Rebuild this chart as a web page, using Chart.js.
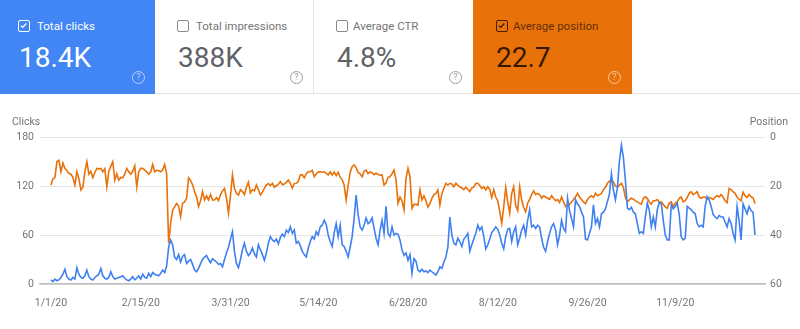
<!DOCTYPE html>
<html>
<head>
<meta charset="utf-8">
<script src="https://cdn.jsdelivr.net/npm/chart.js@4"></script>
<style>
body { margin: 0; background: #fff; font-family: Roboto, "Noto Sans", sans-serif; }
.cards { position: relative; height: 94px; width: 800px; border-bottom: 1px solid #e3e3e3; box-sizing: border-box; }
.card { position: absolute; top: 0; height: 94px; }
.chk { position: absolute; top: 20px; width: 12px; height: 12px; box-sizing: border-box; border-radius: 2px; }
.chk svg { position: absolute; left: 0; top: 0; }
.lbl { position: absolute; top: 19px; font-size: 11.5px; line-height: 14px; white-space: nowrap; }
.val { position: absolute; top: 44px; font-size: 28px; line-height: 28px; white-space: nowrap; }
.help { position: absolute; top: 71px; width: 13px; height: 13px; box-sizing: border-box; border-radius: 50%;
        border: 1.2px solid; font-size: 9px; line-height: 11px; text-align: center; }
#wrap { position: relative; width: 800px; height: 235px; }
</style>
</head>
<body>
<div class="cards">
  <div class="card" style="left:0;width:155px;background:#4285f4;color:#fff">
    <div class="chk" style="left:18px;border:1.5px solid #fff">
      <svg width="9" height="9" viewBox="0 0 9 9"><path d="M1.8 4.6 L3.7 6.4 L7.3 2.5" stroke="#fff" stroke-width="1.3" fill="none"/></svg>
    </div>
    <div class="lbl" style="left:37px">Total clicks</div>
    <div class="val" style="left:19px">18.4K</div>
    <div class="help" style="left:132px;color:rgba(255,255,255,0.6)">?</div>
  </div>
  <div class="card" style="left:155px;width:159px;border-right:1px solid #e3e3e3;box-sizing:border-box">
    <div class="chk" style="left:22px;border:1.3px solid #8a8a8a"></div>
    <div class="lbl" style="left:41px;color:#757575">Total impressions</div>
    <div class="val" style="left:23px;color:#5f6368">388K</div>
    <div class="help" style="left:135px;color:#9e9e9e">?</div>
  </div>
  <div class="card" style="left:314px;width:159px">
    <div class="chk" style="left:22px;border:1.3px solid #8a8a8a"></div>
    <div class="lbl" style="left:39px;color:#757575">Average CTR</div>
    <div class="val" style="left:23px;color:#5f6368">4.8%</div>
    <div class="help" style="left:135px;color:#9e9e9e">?</div>
  </div>
  <div class="card" style="left:473px;width:159px;background:#e8710a">
    <div class="chk" style="left:23px;border:1.5px solid rgba(0,0,0,0.7)">
      <svg width="9" height="9" viewBox="0 0 9 9"><path d="M1.8 4.6 L3.7 6.4 L7.3 2.5" stroke="rgba(0,0,0,0.75)" stroke-width="1.3" fill="none"/></svg>
    </div>
    <div class="lbl" style="left:40px;color:rgba(0,0,0,0.62)">Average position</div>
    <div class="val" style="left:23px;color:rgba(0,0,0,0.78)">22.7</div>
    <div class="help" style="left:135px;color:rgba(255,255,255,0.6)">?</div>
  </div>
</div>
<div id="wrap"><canvas id="chart"></canvas></div>

<script>
// daily values, 1/1/20 onwards
const clicks = [
  5, 3, 6, 4, 5, 8, 12, 18, 9, 6,
  5, 8, 6, 20, 12, 8, 7, 10, 17, 9,
  6, 5, 8, 10, 12, 19, 10, 7, 6, 8,
  15, 9, 6, 7, 8, 9, 10, 7, 5, 4,
  6, 9, 5, 7, 10, 6, 12, 8, 7, 13,
  9, 14, 12, 11, 10, 13, 17, 14, 22, 45,
  54, 48, 33, 30, 36, 27, 34, 36, 25, 28,
  30, 24, 17, 15, 19, 25, 30, 33, 35, 30,
  26, 31, 29, 27, 24, 25, 21, 30, 38, 45,
  55, 64, 40, 25, 20, 30, 42, 50, 40, 35,
  38, 44, 37, 33, 48, 42, 36, 29, 38, 50,
  58, 54, 52, 55, 49, 57, 61, 58, 66, 63,
  70, 62, 66, 50, 52, 47, 40, 36, 33, 44,
  52, 58, 55, 64, 60, 70, 72, 78, 73, 60,
  52, 46, 63, 74, 58, 72, 48, 46, 40, 33,
  45, 58, 80, 109, 85, 70, 66, 72, 81, 74,
  76, 81, 68, 56, 48, 66, 78, 62, 95, 62,
  58, 70, 60, 62, 61, 54, 42, 35, 38, 29,
  36, 13, 31, 28, 17, 15, 18, 15, 16, 14,
  17, 15, 13, 11, 15, 21, 19, 27, 33, 45,
  82, 60, 50, 48, 56, 52, 46, 55, 58, 62,
  40, 48, 55, 62, 72, 66, 70, 58, 43, 48,
  55, 63, 66, 70, 67, 60, 50, 43, 58, 67,
  68, 52, 64, 70, 48, 56, 66, 72, 60, 78,
  91, 70, 72, 68, 72, 70, 56, 45, 40, 52,
  62, 70, 74, 66, 48, 60, 78, 68, 64, 105,
  90, 80, 70, 103, 98, 95, 88, 82, 55, 54,
  62, 70, 97, 74, 80, 70, 86, 88, 92, 101,
  110, 135, 115, 103, 118, 150, 170, 155, 127, 93,
  91, 94, 88, 86, 74, 62, 64, 62, 82, 99,
  90, 70, 82, 70, 91, 100, 98, 78, 60, 54,
  54, 97, 92, 95, 99, 85, 58, 54, 56, 95,
  93, 91, 88, 86, 74, 70, 72, 70, 95, 107,
  103, 95, 85, 82, 80, 84, 82, 82, 76, 70,
  80, 74, 62, 54, 95, 78, 54, 98, 92, 86,
  95, 90, 88, 60
];

const position = [
  19.6, 17, 16.5, 10, 9.5, 14.2, 10.6, 12.8, 13.8, 14.8,
  15.2, 16.5, 19.6, 14.2, 17, 21.6, 20.5, 14, 10.1, 15.2,
  14, 16.6, 14.5, 12.8, 13, 12.8, 14.2, 13, 20.3, 14,
  12, 10.1, 17.6, 15, 17.6, 16.5, 16.6, 15.2, 12.8, 14.2,
  15.2, 14, 11.8, 20.3, 14.2, 12.8, 12.8, 13.5, 14.2, 15.2,
  14.2, 11.2, 14.2, 13.5, 13.8, 14.2, 13.5, 11.2, 15, 43.4,
  35.2, 29.8, 28.5, 27.1, 28.2, 32.5, 27, 26.5, 25, 16.6,
  17.8, 19.5, 22.3, 24.4, 28.4, 26, 22.3, 25.7, 24, 25.7,
  23.5, 25.7, 25.7, 24.7, 26, 23.5, 22, 21, 25, 31.1,
  24, 15.5, 21, 23, 23.7, 21.5, 22.3, 23.5, 20.5, 18.4,
  22.8, 21.5, 22, 19.6, 21.5, 23.7, 22.5, 21, 19.5, 19,
  19.8, 18.9, 20.5, 19.9, 19.3, 18.2, 19.5, 19.2, 18.5, 17.6,
  18.9, 20.9, 19, 18.9, 18.2, 15.5, 15.4, 16.7, 15, 14.2,
  14.2, 13.6, 16.2, 15, 14.3, 14.2, 14.4, 14.2, 14.8, 15.5,
  14.2, 15.5, 14.3, 15.8, 14.4, 16.4, 17.5, 19.6, 25.7, 19.8,
  14.5, 12.1, 11.4, 12.5, 14.5, 15, 16.2, 14, 13.5, 15,
  14.2, 14.7, 15.4, 14.8, 15.2, 15.6, 15.5, 19.6, 18.7, 16.5,
  16.2, 15, 13.5, 17.5, 27.1, 24.5, 26, 29.8, 17, 12.8,
  16.2, 29.1, 27.5, 27.5, 27.8, 21.6, 25.7, 24, 26, 28.6,
  27.2, 25, 23.5, 23, 21.6, 27.8, 23, 21, 18.9, 19.6,
  18.9, 19.2, 20.3, 18.9, 19.6, 20.3, 20.8, 21.5, 20.5, 21.3,
  22.3, 20.8, 20.5, 19, 18.9, 19.8, 21, 20.3, 21.6, 20.3,
  21.5, 24.7, 21.5, 24.5, 26, 30.5, 35.2, 28.5, 20.6, 26.5,
  31.1, 23, 20.3, 28, 30, 20.3, 25.5, 28.8, 30.5, 27,
  25.5, 23.5, 22, 23.5, 23, 23.5, 25, 24, 24.5, 25,
  25.5, 24, 25, 26, 25.5, 26.7, 24.5, 26.5, 28.4, 28,
  27.5, 26.5, 25.5, 24.4, 23, 24.5, 25.5, 26.5, 27.2, 25.5,
  24.5, 24, 24.7, 23, 24, 23.5, 23, 21.5, 20.5, 18.9,
  18, 17.6, 18.4, 20, 20.5, 19.6, 18.9, 20.5, 24.7, 26.4,
  25.7, 25, 25.4, 26, 26.5, 27, 27.4, 25, 24.4, 25,
  26.5, 27.4, 26, 26, 25.5, 26.7, 26.5, 27.5, 28.5, 29.1,
  27, 26.5, 28.4, 27, 26.5, 25, 24.5, 26.5, 26, 24.7,
  23, 22.3, 23.5, 23, 22.3, 24.5, 25, 24.5, 24.5, 25.4,
  24.7, 25, 25.5, 24.5, 24, 24.5, 23.5, 24.5, 26, 26.8,
  21, 21.5, 22.3, 23, 24.5, 25.5, 26, 22.5, 24, 24.7,
  23.5, 24.4, 24.8, 27.1
];

// x tick positions (day index) and their labels
const tickDays = [0, 45, 90, 134, 179, 224, 269, 313];
const tickLabels = ['1/1/20', '2/15/20', '3/31/20', '5/14/20', '6/28/20', '8/12/20', '9/26/20', '11/9/20'];

const clicksTicks = [0, 60, 120, 180];
const positionTicks = [0, 20, 40, 60];

const BLUE = '#3f80f0';
const ORANGE = '#e8710a';
const TICK = '#757575';

const asPoints = arr => arr.map((v, i) => ({ x: i, y: v }));

// "Clicks" / "Position" captions above the value axes
const axisCaptions = {
  id: 'axisCaptions',
  afterDraw(chart) {
    const { ctx, chartArea } = chart;
    ctx.save();
    ctx.font = '10.5px Roboto';
    ctx.fillStyle = TICK;
    ctx.textBaseline = 'middle';
    ctx.textAlign = 'left';
    ctx.fillText('Clicks', 12, chartArea.top - 15);
    ctx.textAlign = 'right';
    ctx.fillText('Position', chart.width - 12, chartArea.top - 15);
    ctx.restore();
  }
};

new Chart(document.getElementById('chart'), {
  type: 'line',
  data: {
    datasets: [
      {
        label: 'Clicks',
        data: asPoints(clicks),
        yAxisID: 'yClicks',
        borderColor: BLUE,
        borderWidth: 1.6,
        pointRadius: 0,
        tension: 0,
        order: 0
      },
      {
        label: 'Position',
        data: asPoints(position),
        yAxisID: 'yPos',
        borderColor: ORANGE,
        borderWidth: 1.6,
        pointRadius: 0,
        tension: 0,
        order: 1
      }
    ]
  },
  options: {
    responsive: true,
    maintainAspectRatio: false,
    animation: false,
    layout: { padding: { top: 43, left: 0, right: 0, bottom: 0 } },
    plugins: { legend: { display: false }, tooltip: { enabled: false } },
    scales: {
      x: {
        type: 'linear',
        min: -5.5,
        max: 358,
        afterBuildTicks: s => { s.ticks = tickDays.map(v => ({ value: v })); },
        afterFit: s => { s.height = 45; },
        grid: { display: false, drawTicks: false },
        border: { display: true, color: '#bdbdbd', width: 1.5 },
        ticks: {
          padding: 13,
          color: TICK,
          font: { family: 'Roboto', size: 10.5 },
          maxRotation: 0,
          autoSkip: false,
          callback: v => tickLabels[tickDays.indexOf(v)]
        }
      },
      yClicks: {
        position: 'left',
        min: 0,
        max: 180,
        afterBuildTicks: s => { s.ticks = clicksTicks.map(v => ({ value: v })); },
        afterFit: s => { s.width = 40; },
        grid: { color: '#e6e6e6', lineWidth: 1, drawTicks: false },
        border: { display: false },
        ticks: { padding: 6, color: TICK, font: { family: 'Roboto', size: 10.5 } }
      },
      yPos: {
        position: 'right',
        reverse: true,
        min: 0,
        max: 60,
        afterBuildTicks: s => { s.ticks = positionTicks.map(v => ({ value: v })); },
        afterFit: s => { s.width = 35; },
        grid: { display: false, drawTicks: false },
        border: { display: false },
        ticks: { padding: 5, color: TICK, font: { family: 'Roboto', size: 10.5 } }
      }
    }
  },
  plugins: [axisCaptions]
});
</script>
</body>
</html>
